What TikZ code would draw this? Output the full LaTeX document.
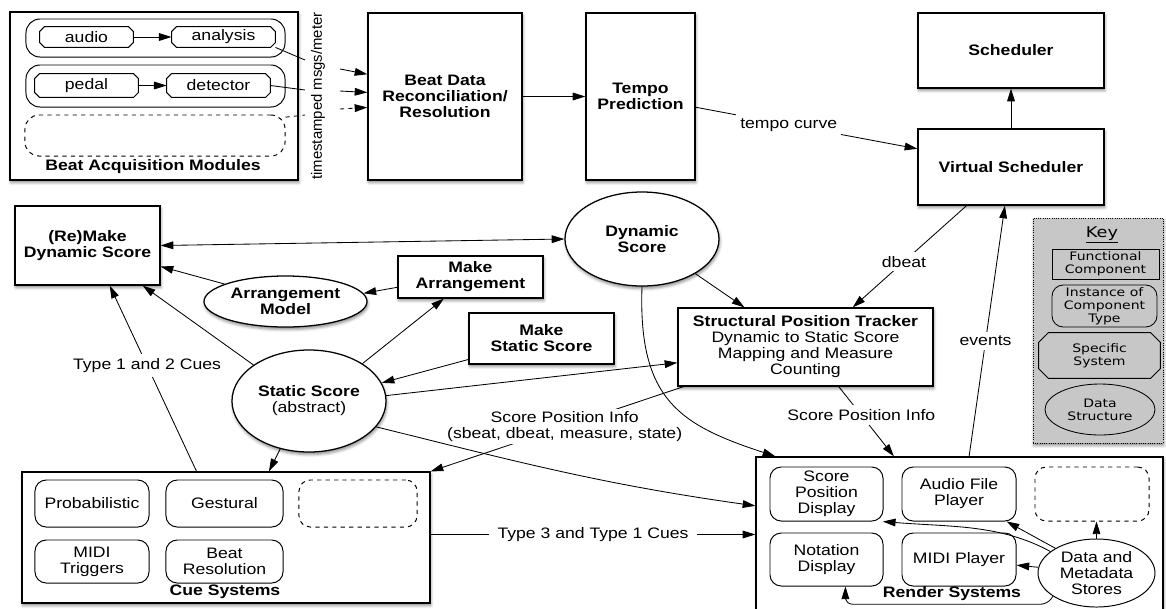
\documentclass[tikz,border=0pt]{standalone}
\usepackage{fontspec}
\setmainfont[FakeStretch=1.16]{Liberation Sans}
\newfontfamily\tsfont{Liberation Sans}
\newfontfamily\keyfont[FakeStretch=1.2]{DejaVu Sans}
\usetikzlibrary{arrows.meta,shapes.geometric,shadows.blur}
\definecolor{keygray}{gray}{0.78}

\begin{document}
\begin{tikzpicture}[x=0.025cm, y=-0.025cm, line width=0.6pt,
  font=\fontsize{10.8}{11.4}\selectfont,
  >={Triangle[length=9pt,width=5.5pt]},
  boxshadow/.style={blur shadow={shadow xshift=0.6pt, shadow yshift=-1.8pt,
    shadow blur radius=2pt, shadow opacity=45}},
  funcbox/.style={draw, line width=0.9pt, fill=white, boxshadow, align=center,
    inner sep=2pt, font=\fontsize{10.8}{11.4}\selectfont\bfseries},
  datanode/.style={ellipse, draw, line width=0.9pt, fill=white, boxshadow,
    align=center, inner sep=0pt, font=\fontsize{10.8}{11.4}\selectfont\bfseries},
  instnode/.style={draw, line width=0.7pt, rounded corners=8pt, align=center, inner sep=1pt},
  specnode/.style={align=center, inner sep=1pt, append after command={\pgfextra{
    \draw[line width=0.7pt] ([xshift=#1]\tikzlastnode.north west)
      -- ([xshift=-#1]\tikzlastnode.north east) -- ([yshift=-#1]\tikzlastnode.north east)
      -- ([yshift=#1]\tikzlastnode.south east) -- ([xshift=-#1]\tikzlastnode.south east)
      -- ([xshift=#1]\tikzlastnode.south west) -- ([yshift=#1]\tikzlastnode.south west)
      -- ([yshift=-#1]\tikzlastnode.north west) -- cycle;}}},
  specnode/.default=3.5pt,
  emptynode/.style={draw, dashed, line width=0.7pt, rounded corners=8pt},
  grp/.style={draw, line width=0.7pt, rounded corners=10pt},
  lbl/.style={fill=white, inner sep=3pt, align=center},
  caption/.style={font=\fontsize{10.8}{11.4}\selectfont\bfseries},
  keyitem/.style={draw, line width=0.6pt, align=center, inner sep=1pt,
    font=\keyfont\fontsize{8.3}{9.2}\selectfont}]

  \useasboundingbox (0,0) rectangle (1166,608);

  % Beat Acquisition Modules
  \node[funcbox, minimum width=7.2cm, minimum height=4.2cm] (acq) at (154,96) {};
  \node[grp, minimum width=6.475cm, minimum height=0.95cm] (grpa) at (155.5,38) {};
  \node[grp, minimum width=6.475cm, minimum height=1.05cm] (grpb) at (155.5,86) {};
  \node[specnode, minimum width=2.325cm, minimum height=0.5cm] (audio) at (86.5,37) {audio};
  \node[specnode, minimum width=2.575cm, minimum height=0.5cm] (analysis) at (223.5,37) {analysis};
  \node[specnode, minimum width=2.575cm, minimum height=0.575cm] (pedal) at (86.5,85.5) {pedal};
  \node[specnode, minimum width=2.575cm, minimum height=0.575cm] (detector) at (218.5,85.5) {detector};
  \node[emptynode, rounded corners=10pt, minimum width=6.5cm, minimum height=1.025cm] (acqdash) at (155,135.5) {};
  \node[caption] (acqlabel) at (153,167) {Beat Acquisition Modules};
  \node[rotate=90, font=\tsfont\fontsize{10.6}{12}\selectfont] (tstamp) at (318,96) {timestamped msgs/meter};

  % obere Reihe
  \node[funcbox, minimum width=3.85cm, minimum height=4.175cm] (beatdata) at (445,96.5)
    {Beat Data\\Reconciliation/\\Resolution};
  \node[funcbox, minimum width=2.725cm, minimum height=4.175cm] (tempo) at (640.5,96.5)
    {Tempo\\Prediction};
  \node[funcbox, minimum width=4.65cm, minimum height=1.875cm] (scheduler) at (1011,50.5) {Scheduler};
  \node[funcbox, minimum width=4.65cm, minimum height=1.9cm] (vsched) at (1011,167) {Virtual Scheduler};

  % Partituren
  \node[funcbox, minimum width=3.625cm, minimum height=1.975cm] (remake) at (87.5,245.5)
    {(Re)Make\\Dynamic Score};
  \node[datanode, minimum width=3.85cm, minimum height=2.35cm] (dynscore) at (642,239)
    {Dynamic\\Score};
  \node[datanode, minimum width=4.075cm, minimum height=1.275cm] (arrmodel) at (285.5,301.5)
    {Arrangement\\Model};
  \node[funcbox, minimum width=3.625cm, minimum height=1.05cm] (makearr) at (470.5,277)
    {Make\\Arrangement};
  \node[funcbox, minimum width=3.625cm, minimum height=1.275cm] (makestatic) at (541.5,338.5)
    {Make\\Static Score};
  \node[datanode, minimum width=3.85cm, minimum height=2.55cm] (staticscore) at (309,401)
    {Static Score\\{\mdseries (abstract)}};
  \node[funcbox, minimum width=6.375cm, minimum height=1.95cm] (tracker) at (805.5,347)
    {Structural Position Tracker\\{\mdseries Dynamic to Static Score}\\{\mdseries Mapping and Measure}\\{\mdseries Counting}};

  % Key
  \node[draw, densely dotted, line width=0.6pt, fill=keygray, boxshadow,
    minimum width=3.25cm, minimum height=5.625cm] (key) at (1098,330.5) {};
  \node[font=\keyfont\fontsize{10.5}{12}\selectfont] (keytitle) at (1102,235) {\underline{Key}};
  \node[keyitem, minimum width=2.675cm, minimum height=0.75cm] (keyfunc) at (1105.5,264)
    {Functional\\Component};
  \node[keyitem, rounded corners=8pt, minimum width=2.625cm, minimum height=1.05cm] (keyinst) at (1104.5,306)
    {Instance of\\Component\\Type};
  \node[keyitem, draw=none, specnode=7pt, minimum width=3.025cm, minimum height=1.125cm] (keyspec) at (1099.5,355.5)
    {Specific\\System};
  \node[keyitem, ellipse, inner sep=0pt, minimum width=2.75cm, minimum height=1.275cm] (keydata) at (1100,409.5)
    {Data\\Structure};

  % Cue Systems
  \node[funcbox, minimum width=10.2cm, minimum height=3.275cm] (cue) at (226,537.5) {};
  \node[instnode, minimum width=2.85cm, minimum height=1.175cm] (prob) at (92,503.5) {Probabilistic};
  \node[instnode, minimum width=2.925cm, minimum height=1.175cm] (gest) at (224.5,503.5) {Gestural};
  \node[emptynode, minimum width=2.95cm, minimum height=1.175cm] (cuedash) at (358,503.5) {};
  \node[instnode, minimum width=2.85cm, minimum height=1.075cm] (miditrig) at (92,561.5) {MIDI\\Triggers};
  \node[instnode, minimum width=2.925cm, minimum height=1.075cm] (beatres) at (224.5,561.5) {Beat\\Resolution};
  \node[caption] (cuelabel) at (225,592) {Cue Systems};

  % Render Systems
  \node[funcbox, minimum width=10.175cm, minimum height=3.875cm] (render) at (959.5,534.5) {};
  \node[instnode, minimum width=2.825cm, minimum height=1.35cm] (scorepos) at (826.5,494)
    {Score\\Position\\Display};
  \node[instnode, minimum width=2.85cm, minimum height=1.35cm] (audiofile) at (959,494)
    {Audio File\\Player};
  \node[emptynode, minimum width=2.85cm, minimum height=1.35cm] (renddash) at (1092,494) {};
  \node[instnode, minimum width=2.825cm, minimum height=1.325cm] (notation) at (826.5,559.5)
    {Notation\\Display};
  \node[instnode, minimum width=2.85cm, minimum height=1.325cm] (midiplayer) at (959,559.5) {MIDI Player};
  \node[ellipse, draw, line width=0.7pt, fill=white, align=center, inner sep=0pt,
    minimum width=2.925cm, minimum height=1.7cm] (datastores) at (1096.5,573)
    {Data and\\Metadata\\Stores};
  \node[caption] (renderlabel) at (952,594) {Render Systems};

  % Verbindungen oben
  \coordinate (tsa1) at (305,60);
  \coordinate (tsa2) at (340,69);
  \coordinate (tsb1) at (305,90);
  \coordinate (tsb2) at (340,91);
  \coordinate (tsc1) at (305,115);
  \coordinate (tsc2) at (340,109);
  \draw[->] (audio) -- (analysis);
  \draw[->] (pedal) -- (detector);
  \draw (analysis.south east) -- (tsa1);
  \draw[->] (tsa2) -- (beatdata.164);
  \draw (detector.east) -- (tsb1);
  \draw[->] (tsb2) -- (beatdata.177);
  \draw[dashed] (acqdash.8) -- (tsc1);
  \draw[->, dashed] (tsc2) -- (beatdata.-172);
  \draw[->] (beatdata) -- (tempo);
  \draw[->] (tempo.-11) -- node[lbl, pos=0.42] {tempo curve} (vsched.169);
  \draw[->] (vsched) -- (scheduler);

  % Verbindungen Mitte
  \draw[<->] (remake.east) -- (dynscore.west);
  \draw[->] (arrmodel.164) -- (remake.-16);
  \draw[->] (makearr.-172) -- (arrmodel.6);
  \draw[->] (staticscore.35) -- (makearr.-141);
  \draw[->] (makestatic.-164) -- (staticscore.14);
  \draw[->] (staticscore.147) -- (remake.-36);
  \draw[->] (staticscore.4) -- (tracker.-173);
  \draw[->] (dynscore.-33) -- (tracker.147);
  \draw[->] (vsched.-139) -- node[lbl, pos=0.55] {dbeat} (tracker.40);
  \draw[->] (render.83) -- node[lbl, pos=0.46] {events} (vsched.-99);
  \draw[->] (tracker.-50) -- node[lbl, pos=0.41] {Score Position Info} (render.130);
  \draw[->] (tracker.-162) -- node[lbl, inner sep=2pt, pos=0.47]
    {Score Position Info\\(sbeat, dbeat, measure, state)} (cue.north east);
  \draw[->] (staticscore.-121) -- (cue.57);
  \draw[->] (cue.114) -- node[lbl, pos=0.57] {Type 1 and 2 Cues} (remake.-61);
  \draw[->] (cue.east |- render.west) -- node[lbl, inner sep=6pt] {Type 3 and Type 1 Cues} (render.west);
  \draw[->] (staticscore.-21) to[out=-14, in=172] (render.172);
  \draw[->] (dynscore.south) .. controls (638,400) and (680,425) .. (render.157);

  % Verbindungen Render Systems
  \draw[->] (datastores.north) -- (datastores.north |- renddash.south);
  \draw[->] (datastores) -- (midiplayer);
  \draw[->] (datastores.149) -- (audiofile.-30);
  \draw[->] (datastores.155) .. controls (1000,524) and (950,527) .. (scorepos.-26);
  \draw[->, rounded corners=5pt] (datastores.-152) -- ++(-5,8) -| (notation.-55);

\end{tikzpicture}
\end{document}
